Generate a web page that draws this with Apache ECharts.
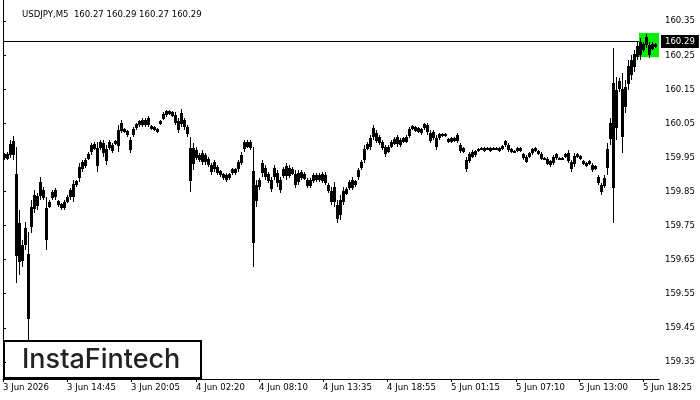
<!DOCTYPE html>
<html>
<head>
<meta charset="utf-8">
<script src="https://cdn.jsdelivr.net/npm/echarts@6/dist/echarts.min.js"></script>
<style>html,body{margin:0;padding:0;background:#fff}#c{width:700px;height:400px}</style>
</head>
<body>
<div id="c"></div>
<script>
// USDJPY M5 - each point summarises 3 consecutive 5-minute bars (high / low)
const symbolTitle = 'USDJPY,M5  160.27 160.29 160.27 160.29';
const highs = [
159.963,159.966,160.001,160.013,159.980,159.796,159.707,159.761,159.731,159.825,
159.854,159.846,159.893,159.863,159.834,159.825,159.854,159.860,159.825,159.816,
159.825,159.840,159.860,159.884,159.884,159.934,159.942,159.948,159.966,159.992,
159.995,159.995,160.001,160.001,159.986,160.001,159.992,160.001,160.045,160.060,
160.036,160.030,160.010,160.039,160.051,160.060,160.066,160.066,160.071,160.045,
160.042,160.036,160.060,160.083,160.089,160.089,160.086,160.083,160.066,160.092,
160.066,160.045,160.010,159.992,159.980,159.963,159.972,159.963,159.951,159.934,
159.942,159.928,159.913,159.904,159.904,159.904,159.919,159.919,159.942,159.966,
160.001,160.001,160.001,159.980,159.884,159.890,159.942,159.928,159.907,159.893,
159.928,159.913,159.893,159.922,159.934,159.928,159.922,159.913,159.913,159.913,
159.907,159.890,159.890,159.904,159.904,159.904,159.907,159.907,159.875,159.863,
159.878,159.825,159.840,159.863,159.863,159.884,159.893,159.884,159.919,159.942,
159.986,159.995,160.016,160.045,160.030,160.016,160.001,159.986,159.986,160.001,
160.010,160.016,160.007,160.010,160.016,160.039,160.045,160.042,160.039,160.036,
160.051,160.051,160.030,160.030,160.016,160.022,160.022,160.022,160.007,160.010,
160.010,160.022,159.992,159.980,159.951,159.966,159.972,159.972,159.978,159.980,
159.980,159.980,159.980,159.980,159.980,159.980,159.986,160.001,159.992,159.978,
159.972,159.980,159.980,159.963,159.957,159.966,159.978,159.980,159.972,159.966,
159.951,159.951,159.942,159.957,159.963,159.951,159.951,159.963,159.972,159.942,
159.963,159.963,159.957,159.942,159.937,159.942,159.934,159.928,159.898,159.875,
159.898,159.992,160.066,160.271,160.186,160.183,160.198,160.177,160.236,160.250,
160.265,160.288,160.300,160.288,160.312,160.288,160.288,160.285
];
const lows = [
159.942,159.942,159.948,159.942,159.582,159.605,159.629,159.678,159.414,159.728,
159.787,159.796,159.825,159.825,159.678,159.802,159.825,159.825,159.805,159.796,
159.796,159.816,159.825,159.819,159.863,159.878,159.907,159.919,159.942,159.957,
159.972,159.907,159.972,159.951,159.928,159.972,159.963,159.986,159.966,160.022,
160.022,160.010,159.963,160.010,160.030,160.039,160.039,160.039,160.039,160.030,
160.027,160.022,160.045,160.060,160.068,160.074,160.068,160.045,160.022,160.039,
160.030,160.010,159.849,159.913,159.942,159.937,159.928,159.928,159.922,159.898,
159.907,159.898,159.893,159.884,159.878,159.884,159.898,159.898,159.907,159.928,
159.966,159.978,159.972,159.629,159.805,159.854,159.893,159.884,159.875,159.849,
159.884,159.863,159.846,159.890,159.884,159.890,159.898,159.860,159.869,159.884,
159.884,159.860,159.860,159.875,159.878,159.878,159.875,159.869,159.846,159.810,
159.805,159.758,159.766,159.810,159.840,159.854,159.854,159.863,159.884,159.913,
159.934,159.972,159.972,160.001,159.992,159.986,159.972,159.951,159.963,159.978,
159.986,159.980,159.980,159.992,159.992,160.007,160.030,160.024,160.022,160.016,
160.030,160.016,159.992,160.001,159.972,160.001,160.010,160.010,159.992,159.992,
159.995,159.992,159.963,159.963,159.907,159.934,159.948,159.951,159.966,159.972,
159.966,159.972,159.966,159.972,159.972,159.966,159.972,159.980,159.966,159.963,
159.963,159.966,159.966,159.942,159.934,159.948,159.957,159.966,159.957,159.942,
159.942,159.928,159.922,159.928,159.942,159.942,159.942,159.948,159.934,159.907,
159.922,159.948,159.942,159.928,159.922,159.928,159.907,159.913,159.869,159.840,
159.860,159.898,159.986,159.758,160.001,160.142,159.963,160.080,160.148,160.177,
160.200,160.236,160.236,160.259,160.271,160.241,160.265,160.271
];
const barsPerPoint = 3;
const lastPrice = 160.29;
// price-axis labels
const yTicks = [159.35,159.45,159.55,159.65,159.75,159.85,159.95,160.05,160.15,160.25,160.35];
// time-axis labels and the bar index where each one sits
const xTickLabels = ['3 Jun 2026','3 Jun 14:45','3 Jun 20:05','4 Jun 02:20','4 Jun 08:10','4 Jun 13:35','4 Jun 18:55','5 Jun 01:15','5 Jun 07:10','5 Jun 13:00','5 Jun 18:25'];
const xTickIndex = [0,64,128,193,256,320,384,448,513,576,640];
// highlighted pattern zone (bar index range, price range)
const patternBars = [636, 656];
const patternPrices = [160.244, 160.315];
const yMin = 159.2998, yMax = 160.4116, xMax = 656;

const font = "'DejaVu Sans Condensed','DejaVu Sans',sans-serif";
const data = highs.map((h, i) => [i * barsPerPoint + barsPerPoint / 2, lows[i], h]);

const chart = echarts.init(document.getElementById('c'), null, {renderer: 'canvas'});
chart.setOption({
  animation: false,
  backgroundColor: '#fff',
  title: {
    text: symbolTitle, left: 17, top: 5,
    textStyle: {fontSize: 9.5, fontWeight: 'normal', color: '#000', fontFamily: font}
  },
  grid: {left: 3, right: 41, top: 0, bottom: 21},
  xAxis: {
    type: 'value', min: 0, max: xMax,
    splitLine: {show: false},
    axisLine: {show: true, lineStyle: {color: '#000', width: 1}},
    axisTick: {show: true, length: 3, customValues: xTickIndex, lineStyle: {color: '#000'}},
    axisLabel: {
      customValues: xTickIndex, align: 'left', margin: 4,
      fontSize: 9.5, color: '#000', fontFamily: font,
      formatter: v => xTickLabels[xTickIndex.indexOf(v)] || ''
    }
  },
  yAxis: {
    type: 'value', position: 'right', min: yMin, max: yMax, scale: true,
    splitLine: {show: false},
    axisLine: {show: true, lineStyle: {color: '#000', width: 1}},
    axisTick: {show: true, length: 3, customValues: yTicks, lineStyle: {color: '#000'}},
    axisLabel: {
      customValues: yTicks, margin: 6, fontSize: 9.5, color: '#000', fontFamily: font,
      formatter: v => v.toFixed(2)
    }
  },
  series: [{
    type: 'custom',
    z: 3,
    data: data,
    encode: {x: 0, y: [1, 2]},
    renderItem: function (params, api) {
      const x = api.value(0);
      const top = api.coord([x, api.value(2)]);
      const bot = api.coord([x, api.value(1)]);
      const w = api.size([barsPerPoint, 0])[0];
      const left = Math.round(top[0] - w / 2);
      const y0 = Math.round(top[1]);
      const h = Math.max(1, Math.round(bot[1] - top[1]));
      // thin wick over the full range, a slightly wider core around the middle
      return {
        type: 'group',
        children: [
          {type: 'rect', shape: {x: left + 1, y: y0, width: 1, height: h}, style: {fill: '#000'}},
          {type: 'rect', shape: {x: left, y: y0 + Math.round(h * 0.2), width: Math.round(w), height: Math.max(1, Math.round(h * 0.6))}, style: {fill: '#000'}}
        ]
      };
    },
    markArea: {
      z: 2, silent: true,
      itemStyle: {color: '#00ee00', opacity: 1},
      data: [[{xAxis: patternBars[0], yAxis: patternPrices[1]}, {xAxis: patternBars[1], yAxis: patternPrices[0]}]]
    },
    markLine: {
      z: 1, silent: true, symbol: 'none',
      lineStyle: {color: '#000', width: 1, type: 'solid'},
      label: {show: false},
      data: [
        {yAxis: lastPrice, label: {
          show: true, position: 'end', distance: 2, formatter: lastPrice.toFixed(2),
          backgroundColor: '#000', color: '#fff', padding: [2, 4, 1, 4],
          fontSize: 9.5, fontFamily: font
        }},
        [{coord: [0, lastPrice]}, {coord: [0, yMin]}]
      ]
    }
  }],
  graphic: [{
    type: 'group', left: 3, top: 340, z: 100,
    children: [
      {type: 'rect', shape: {x: 1, y: 1, width: 197, height: 37}, style: {fill: '#fff', stroke: '#000', lineWidth: 2}},
      {type: 'text', x: 19, y: 20, style: {text: 'InstaFintech', font: "500 27px Inter", fill: '#222', textVerticalAlign: 'middle'}}
    ]
  }]
});
</script>
</body>
</html>
